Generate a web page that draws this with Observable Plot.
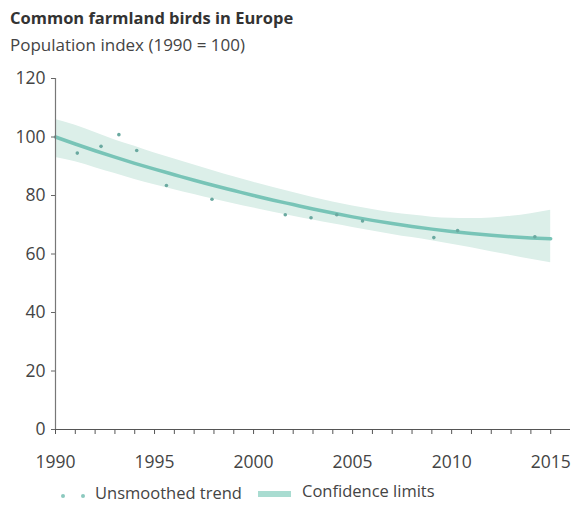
<!DOCTYPE html>
<html>
<head>
<meta charset="utf-8">
<script src="https://cdn.jsdelivr.net/npm/d3@7"></script>
<script src="https://cdn.jsdelivr.net/npm/@observablehq/plot@0.6"></script>
<style>
  html, body { margin: 0; padding: 0; background: #fff; }
  body { width: 573px; height: 506px; overflow: hidden; position: relative; font-family: "Open Sans", sans-serif; color: #333; }
  #title { position: absolute; left: 10px; top: 6px; font-size: 16.5px; font-weight: 700; color: #333; white-space: nowrap; }
  #subtitle { position: absolute; left: 10px; top: 33px; font-size: 17px; color: #444; white-space: nowrap; }
  #chart { position: absolute; left: 0; top: 60px; }
  #legend { position: absolute; left: 0; top: 481px; width: 573px; height: 25px; font-size: 16.5px; color: #444; }
  .lg { position: absolute; white-space: nowrap; line-height: 22px; }
</style>
</head>
<body>
<div id="title">Common farmland birds in Europe</div>
<div id="subtitle">Population index (1990 = 100)</div>
<div id="chart"></div>
<div id="legend">
  <span class="lg" style="left:61px;top:13px;width:4px;height:4px;border-radius:2px;background:#8cc9bf"></span>
  <span class="lg" style="left:81px;top:13px;width:4px;height:4px;border-radius:2px;background:#8cc9bf"></span>
  <span class="lg" style="left:95px;top:1px">Unsmoothed trend</span>
  <span class="lg" style="left:258px;top:10px;width:33px;height:6px;background:#a9dcd1"></span>
  <span class="lg" style="left:302px;top:-1px">Confidence limits</span>
</div>
<script>
// Smoothed trend (index, 1990 = 100)
const trendYears = d3.range(1990, 2016);
const trendValues = [100, 97.6, 95.3, 93.1, 91.0, 89.0, 87.1, 85.2, 83.4, 81.7, 80.0, 78.4, 76.9, 75.4, 74.0, 72.7, 71.5, 70.4, 69.4, 68.5, 67.7, 67.0, 66.4, 65.9, 65.5, 65.2];
// Confidence limits
const lowerValues = [93, 91.5, 89.5, 87.5, 85.5, 83.7, 82, 80.3, 78.7, 77.2, 75.7, 74.3, 72.9, 71.6, 70.3, 69.1, 67.9, 66.7, 65.6, 64.5, 63.3, 62.1, 60.8, 59.5, 58.2, 57];
const upperValues = [106, 104, 101.5, 99, 96.8, 94.5, 92.5, 90.4, 88.4, 86.4, 84.5, 82.7, 81, 79.3, 77.8, 76.4, 75.2, 74.1, 73.3, 72.6, 72.2, 72.1, 72.3, 72.9, 73.8, 75];
// Unsmoothed trend points (visible ones)
const pointYears = [1991.1, 1992.3, 1993.2, 1994.1, 1995.6, 1997.9, 2001.6, 2002.9, 2004.2, 2005.5, 2009.1, 2010.3, 2014.2];
const pointValues = [94.5, 96.8, 100.8, 95.4, 83.4, 78.7, 73.4, 72.4, 73.4, 71.3, 65.6, 68.0, 65.9];
// Tick labels
const yTicks = [0, 20, 40, 60, 80, 100, 120];
const xLabelTicks = [1990, 1995, 2000, 2005, 2010, 2015];
const xMinorTicks = d3.range(1990, 2016);

const trend = trendYears.map((year, i) => ({year, value: trendValues[i], lo: lowerValues[i], hi: upperValues[i]}));
const points = pointYears.map((year, i) => ({year, value: pointValues[i]}));

const chart = Plot.plot({
  width: 573,
  height: 420,
  marginLeft: 55,
  marginRight: 3,
  marginTop: 18,
  marginBottom: 51,
  style: {fontFamily: "Open Sans, sans-serif", fontSize: "15.5px", color: "#444", background: "#fff", overflow: "visible"},
  x: {domain: [1990, 2016]},
  y: {domain: [0, 120]},
  marks: [
    Plot.areaY(trend, {x: "year", y1: "lo", y2: "hi", fill: "#dcefe9", fillOpacity: 1, curve: "natural"}),
    Plot.lineY(trend, {x: "year", y: "value", stroke: "#78c4b7", strokeWidth: 3.5, curve: "natural"}),
    Plot.dot(points, {x: "year", y: "value", r: 1.8, fill: "#6aa9a0"}),
    Plot.ruleX([1990], {y1: 0, y2: 120, stroke: "#777", strokeWidth: 1.2}),
    Plot.ruleY([0], {x1: 1990, x2: 2016, stroke: "#555", strokeWidth: 1.2}),
    Plot.axisY({ticks: yTicks, tickSize: 4, tickPadding: 6, tickFormat: d => String(d), stroke: "#666", fill: "#444", label: null, fontSize: 17.5}),
    Plot.axisX({ticks: xMinorTicks, tickSize: 5, tickFormat: () => "", stroke: "#555", label: null}),
    Plot.axisX({ticks: xLabelTicks, tickSize: 0, tickPadding: 26, tickFormat: d => String(d), fill: "#444", label: null, fontSize: 17.5})
  ]
});
document.getElementById("chart").appendChild(chart);
</script>
</body>
</html>
